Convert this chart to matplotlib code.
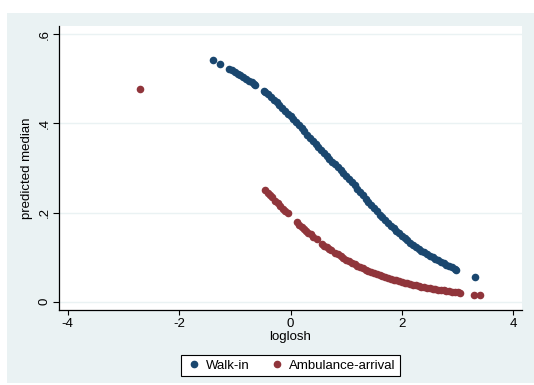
import matplotlib
matplotlib.use("Agg")
import matplotlib.pyplot as plt
from matplotlib.lines import Line2D

plt.rcParams['font.family'] = ['Liberation Sans', 'DejaVu Sans']

# ---- data ----
walkin_x = [-1.39, -1.26, -1.10, -1.05, -1.00, -0.95, -0.90, -0.85, -0.80, -0.75, -0.70, -0.65, -0.63,
            -0.47, -0.45, -0.40, -0.35, -0.30, -0.25, -0.20, -0.15, -0.10, -0.05, 0.00, 0.05, 0.10,
            0.15, 0.20, 0.25, 0.30, 0.35, 0.40, 0.45, 0.50, 0.55, 0.60, 0.65, 0.70, 0.75, 0.80, 0.85,
            0.90, 0.95, 1.00, 1.05, 1.10, 1.15, 1.20, 1.25, 1.30, 1.35, 1.40, 1.45, 1.50, 1.55, 1.60,
            1.65, 1.70, 1.75, 1.80, 1.85, 1.90, 1.95, 2.00, 2.05, 2.10, 2.15, 2.20, 2.25, 2.30, 2.35,
            2.40, 2.45, 2.50, 2.55, 2.60, 2.65, 2.70, 2.75, 2.80, 2.85, 2.90, 2.95, 2.98, 3.32]
walkin_y = [0.542, 0.534, 0.523, 0.519, 0.516, 0.512, 0.508, 0.504, 0.500, 0.496, 0.492, 0.488, 0.487,
            0.472, 0.470, 0.465, 0.459, 0.453, 0.447, 0.441, 0.435, 0.428, 0.422, 0.416, 0.409, 0.403,
            0.396, 0.389, 0.382, 0.375, 0.368, 0.361, 0.354, 0.347, 0.3405, 0.334, 0.3275, 0.321, 0.3145,
            0.308, 0.3015, 0.295, 0.2885, 0.282, 0.275, 0.268, 0.261, 0.254, 0.2465, 0.239, 0.2315, 0.224,
            0.217, 0.210, 0.2025, 0.1955, 0.189, 0.1828, 0.1767, 0.1707, 0.165, 0.159, 0.1535, 0.148,
            0.1428, 0.1377, 0.1328, 0.128, 0.1235, 0.119, 0.1148, 0.1107, 0.1068, 0.103, 0.0993, 0.0958,
            0.0925, 0.0893, 0.0862, 0.0832, 0.080, 0.077, 0.074, 0.072, 0.055]

amb_x = [-2.70,
         -0.45, -0.40, -0.37, -0.33, -0.28, -0.23, -0.18, -0.13, -0.09, -0.05,
         0.12, 0.16, 0.20, 0.24, 0.28, 0.32, 0.36, 0.41, 0.47,
         0.57, 0.61, 0.65, 0.69, 0.72,
         0.80, 0.85, 0.90, 0.95, 1.00, 1.05, 1.10, 1.15, 1.20, 1.25, 1.30, 1.35, 1.40, 1.45, 1.50,
         1.55, 1.60, 1.65, 1.70, 1.75, 1.80, 1.85, 1.90, 1.95, 2.00, 2.05, 2.10, 2.15, 2.20, 2.25,
         2.30, 2.35, 2.40, 2.45, 2.50, 2.55, 2.60, 2.65, 2.70, 2.75, 2.80, 2.85, 2.90, 2.95, 3.00,
         3.05, 3.30, 3.40]
amb_y = [0.477,
         0.251, 0.244, 0.240, 0.234, 0.227, 0.221, 0.215, 0.209, 0.204, 0.199,
         0.178, 0.173, 0.168, 0.164, 0.159, 0.155, 0.151, 0.146, 0.140,
         0.130, 0.126, 0.122, 0.119, 0.116,
         0.110, 0.106, 0.102, 0.098, 0.0945, 0.091, 0.0875, 0.084, 0.081, 0.078, 0.075, 0.072, 0.0693,
         0.0667, 0.0642, 0.0618, 0.0595, 0.0573, 0.0552, 0.0532, 0.0513, 0.0495, 0.0477, 0.046, 0.0443,
         0.0427, 0.0411, 0.0396, 0.0381, 0.0367, 0.0354, 0.0341, 0.0329, 0.0317, 0.0305, 0.0294, 0.0283,
         0.0272, 0.0262, 0.0252, 0.0243, 0.0234, 0.0225, 0.0216, 0.0208, 0.020, 0.0145, 0.014]

series_labels = ["Walk-in", "Ambulance-arrival"]
x_ticks = [-4, -2, 0, 2, 4]
x_tick_labels = ["-4", "-2", "0", "2", "4"]
y_ticks = [0, 0.2, 0.4, 0.6]
y_tick_labels = ["0", ".2", ".4", ".6"]
x_label = "loglosh"
y_label = "predicted median"

# ---- styling ----
W, H = 534, 385
navy = "#1a476f"
maroon = "#90353b"
panel = "#eaf2f3"

fig = plt.figure(figsize=(W / 100, H / 100), dpi=100)
fig.patch.set_facecolor("white")

bg = fig.add_axes([7 / W, 1 - 383 / H, (W - 7) / W, (383 - 13) / H], zorder=0)
bg.set_facecolor(panel)
bg.set_xticks([])
bg.set_yticks([])
for s in bg.spines.values():
    s.set_visible(False)

ax = fig.add_axes([59 / W, 1 - 310 / H, (522 - 59) / W, (310 - 26) / H], zorder=1)
ax.set_facecolor("white")

ax.scatter(walkin_x, walkin_y, s=30, color=navy, linewidths=0, zorder=3)
ax.scatter(amb_x, amb_y, s=30, color=maroon, linewidths=0, zorder=3)

ax.set_xlim(-4.156, 4.156)
ax.set_ylim(-0.0186, 0.6186)
ax.set_xticks(x_ticks)
ax.set_xticklabels(x_tick_labels)
ax.set_yticks(y_ticks)
ax.set_yticklabels(y_tick_labels, rotation=90, va="center")

for yv in y_ticks:
    ax.axhline(yv, color=panel, lw=1.0, zorder=1)

for s in ["top", "right"]:
    ax.spines[s].set_visible(False)
for s in ["left", "bottom"]:
    ax.spines[s].set_color("black")
    ax.spines[s].set_linewidth(0.9)

ax.tick_params(axis="both", direction="out", length=3.5, width=0.8, colors="black",
               labelsize=9.5, pad=2)
ax.tick_params(axis="y", length=4)

ax.set_xlabel(x_label, fontsize=9.5, labelpad=1)
ax.set_ylabel(y_label, fontsize=9.5, labelpad=4)

handles = [Line2D([], [], marker="o", ls="none", color=navy, markersize=4.5),
           Line2D([], [], marker="o", ls="none", color=maroon, markersize=4.5)]
leg = fig.legend(handles, series_labels, loc="center", ncol=2,
                 bbox_to_anchor=(290.5 / W, 1 - 365.5 / H), fontsize=9.5,
                 frameon=True, fancybox=False, edgecolor="black", framealpha=1,
                 handletextpad=0.3, columnspacing=1.5, handlelength=1.2,
                 borderpad=0.35, borderaxespad=0)
leg.get_frame().set_linewidth(0.8)
leg.set_zorder(5)

fig.savefig("out.png", dpi=100)
